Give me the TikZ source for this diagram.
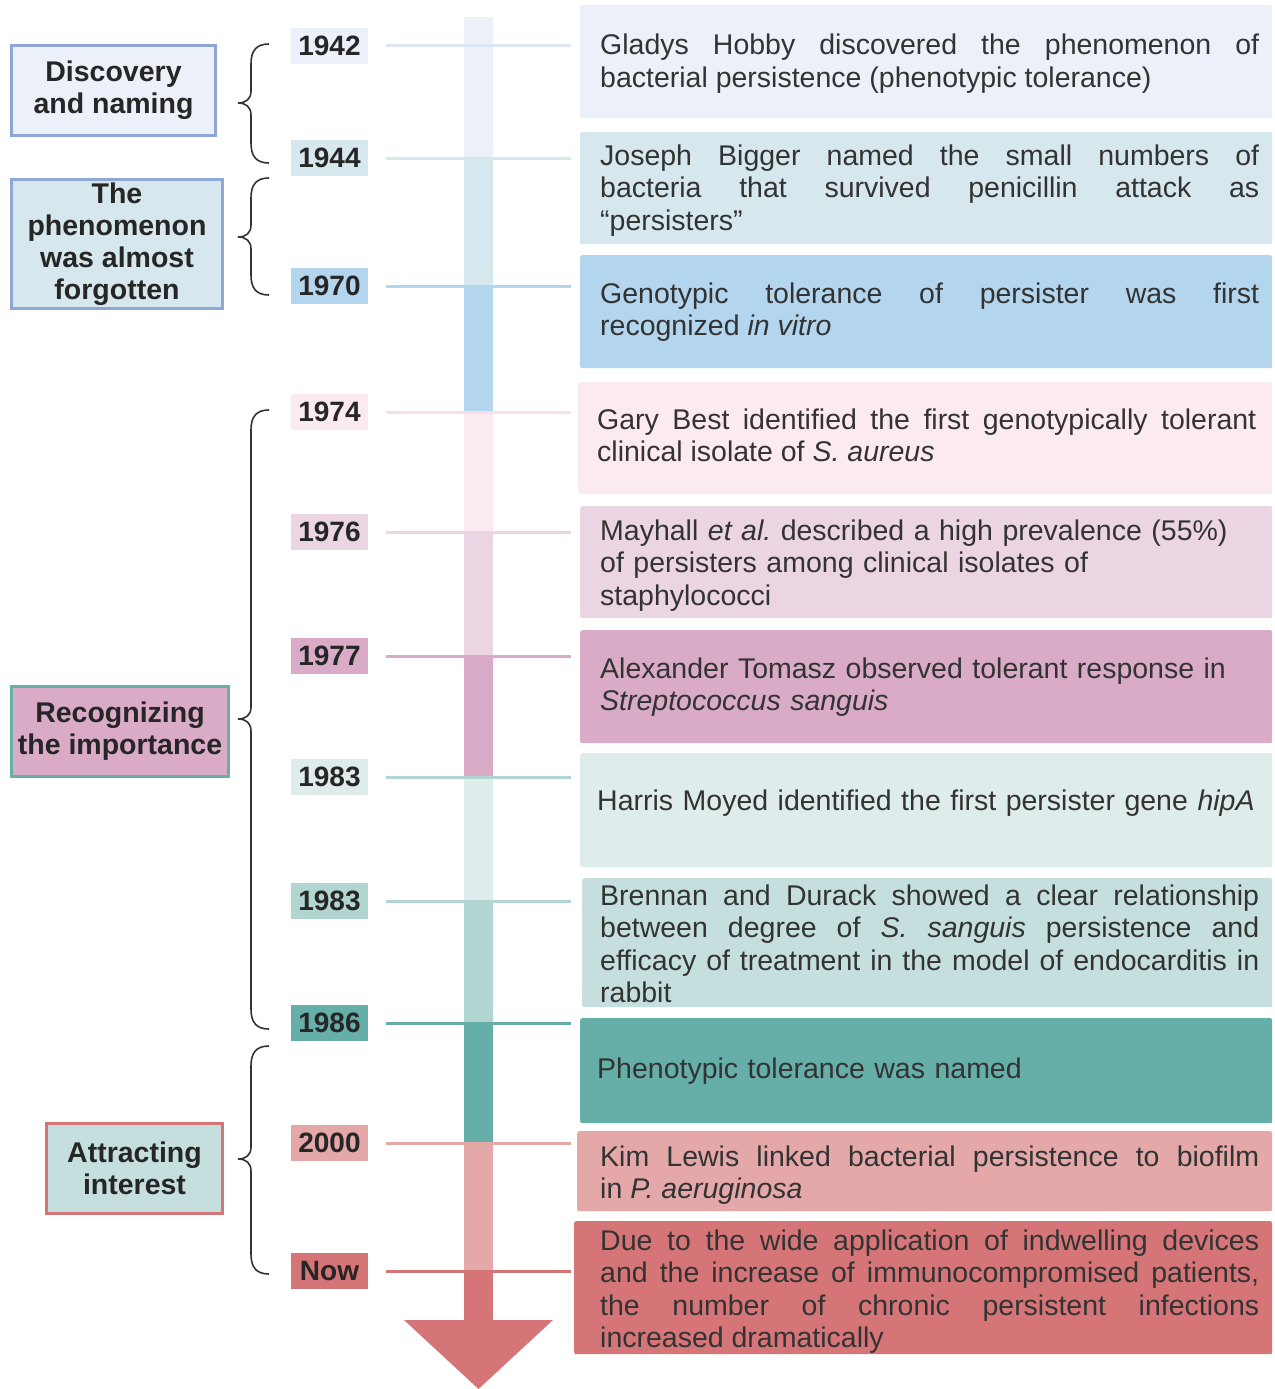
\documentclass[tikz,border=0pt]{standalone}
\usepackage{fontspec}
\setmainfont{Liberation Sans}
\tolerance=9999
\hyphenpenalty=10000
\exhyphenpenalty=10000
\frenchspacing
\definecolor{txt}{HTML}{333333}
\definecolor{btxt}{HTML}{262626}
\definecolor{e1}{HTML}{ECF0F8}
\definecolor{e2}{HTML}{D6E8EE}
\definecolor{e3}{HTML}{B3D5EE}
\definecolor{e4}{HTML}{FBEBF0}
\definecolor{e5}{HTML}{EBD5E2}
\definecolor{e6}{HTML}{D9ABC6}
\definecolor{e7}{HTML}{DEECEB}
\definecolor{e8}{HTML}{C5DFDE}
\definecolor{e8b}{HTML}{B1D5D1}
\definecolor{e9}{HTML}{66AEA8}
\definecolor{e10}{HTML}{E4A8A8}
\definecolor{e11}{HTML}{D67578}
\definecolor{l1}{HTML}{DCE7F3}
\definecolor{l4}{HTML}{F8E0EA}
\definecolor{gblue}{HTML}{8EA7D7}
\definecolor{brk}{HTML}{333333}
\newcommand\tlbrace[3]{%
  \draw[brc] (269,#1) .. controls (256,#1) and (251,#1+7) .. (251,#1+20)
    -- (251,#2-12) .. controls (251,#2-4) and (246,#2) .. (238,#2)
    .. controls (246,#2) and (251,#2+4) .. (251,#2+12)
    -- (251,#3-20) .. controls (251,#3-7) and (256,#3) .. (269,#3);}
\begin{document}
\begin{tikzpicture}[x=1pt,y=-1pt,
  yearlbl/.style={fill=#1, minimum width=77pt, minimum height=36pt, inner sep=0pt,
    text=btxt, font=\bfseries\fontsize{28}{32}\selectfont},
  evbox/.style={fill=#1, rounded corners=2pt, inner sep=0pt, anchor=north west},
  evtext/.style={anchor=base west, text width=659pt, inner sep=0pt, text=txt,
    font=\fontsize{28.5}{32.5}\selectfont},
  grp/.style 2 args={fill=#1, draw=#2, line width=3pt, inner sep=0pt, align=center,
    text=btxt, font=\bfseries\fontsize{28.5}{32}\selectfont},
  conn/.style={draw=#1, line width=3pt},
  brc/.style={draw=brk, line width=1.6pt}]
\useasboundingbox (0,0) rectangle (1274,1389);
\fill[white] (0,0) rectangle (1274,1389);

% timeline bar
\fill[e1]  (464,17)   rectangle (493,158);
\fill[e2]  (464,158)  rectangle (493,286);
\fill[e3]  (464,286)  rectangle (493,412);
\fill[e4]  (464,412)  rectangle (493,532);
\fill[e5]  (464,532)  rectangle (493,656);
\fill[e6]  (464,656)  rectangle (493,777);
\fill[e7]  (464,777)  rectangle (493,901);
\fill[e8b] (464,901)  rectangle (493,1023);
\fill[e9]  (464,1023) rectangle (493,1143);
\fill[e10] (464,1143) rectangle (493,1271);
\fill[e11] (464,1271) rectangle (493,1321);
\fill[e11] (404,1320) -- (553,1320) -- (478.5,1389) -- cycle;

% event boxes
\node[evbox=e1,  minimum width=692pt, minimum height=113pt] (b1)  at (580,5) {};
\node[evbox=e2,  minimum width=692pt, minimum height=112pt] (b2)  at (580,132) {};
\node[evbox=e3,  minimum width=692pt, minimum height=113pt] (b3)  at (580,255) {};
\node[evbox=e4,  minimum width=694pt, minimum height=112pt] (b4)  at (578,382) {};
\node[evbox=e5,  minimum width=692pt, minimum height=112pt] (b5)  at (580,506) {};
\node[evbox=e6,  minimum width=692pt, minimum height=113pt] (b6)  at (580,630) {};
\node[evbox=e7,  minimum width=692pt, minimum height=114pt] (b7)  at (580,753) {};
\node[evbox=e8,  minimum width=690pt, minimum height=129pt] (b8)  at (582,878) {};
\node[evbox=e9,  minimum width=692pt, minimum height=105pt] (b9)  at (580,1018) {};
\node[evbox=e10, minimum width=695pt, minimum height=80pt]  (b10) at (577,1131) {};
\node[evbox=e11, minimum width=698pt, minimum height=133pt] (b11) at (574,1221) {};

% year labels
\node[yearlbl=e1]  (y1)  at (329.5,46)   {1942};
\node[yearlbl=e2]  (y2)  at (329.5,158)  {1944};
\node[yearlbl=e3]  (y3)  at (329.5,286)  {1970};
\node[yearlbl=e4]  (y4)  at (329.5,412)  {1974};
\node[yearlbl=e5]  (y5)  at (329.5,532)  {1976};
\node[yearlbl=e6]  (y6)  at (329.5,656)  {1977};
\node[yearlbl=e7]  (y7)  at (329.5,777)  {1983};
\node[yearlbl=e8b] (y8)  at (329.5,901)  {1983};
\node[yearlbl=e9]  (y9)  at (329.5,1023) {1986};
\node[yearlbl=e10] (y10) at (329.5,1143) {2000};
\node[yearlbl=e11] (y11) at (329.5,1271) {Now};

% connectors
\draw[conn=l1,  shorten <=18pt, shorten >=9pt]  (y1.east)  -- (y1.east -| b1.west);
\draw[conn=e2,  shorten <=18pt, shorten >=9pt]  (y2.east)  -- (y2.east -| b2.west);
\draw[conn=e3,  shorten <=18pt, shorten >=9pt]  (y3.east)  -- (y3.east -| b3.west);
\draw[conn=l4,  shorten <=18pt, shorten >=7pt]  (y4.east)  -- (y4.east -| b4.west);
\draw[conn=e5,  shorten <=18pt, shorten >=9pt]  (y5.east)  -- (y5.east -| b5.west);
\draw[conn=e6,  shorten <=18pt, shorten >=9pt]  (y6.east)  -- (y6.east -| b6.west);
\draw[conn=e8b, shorten <=18pt, shorten >=9pt]  (y7.east)  -- (y7.east -| b7.west);
\draw[conn=e8b, shorten <=18pt, shorten >=11pt] (y8.east)  -- (y8.east -| b8.west);
\draw[conn=e9,  shorten <=18pt, shorten >=9pt]  (y9.east)  -- (y9.east -| b9.west);
\draw[conn=e10, shorten <=18pt, shorten >=6pt]  (y10.east) -- (y10.east -| b10.west);
\draw[conn=e11, shorten <=18pt, shorten >=3pt]  (y11.east) -- (y11.east -| b11.west);

% event texts
\node[evtext, align=justify] (t1) at (600,55) {Gladys Hobby discovered the phenomenon of\linebreak bacterial persistence (phenotypic tolerance)};
\node[evtext, align=justify] (t2) at (600,165) {Joseph Bigger named the small numbers of\linebreak bacteria that survived penicillin attack as\linebreak “persisters”};
\node[evtext, align=justify] (t3) at (600,303) {Genotypic tolerance of persister was first\linebreak recognized \textit{in vitro}};
\node[evtext, align=justify] (t4) at (597,429) {Gary Best identified the first genotypically tolerant\linebreak clinical isolate of \textit{S. aureus}};
\node[evtext, align=left] (t5) at (600,540) {Mayhall \textit{et al.} described a high prevalence (55\%)\newline of persisters among clinical isolates of\newline staphylococci};
\node[evtext, align=left] (t6) at (600,678) {Alexander Tomasz observed tolerant response in\newline \textit{Streptococcus sanguis}};
\node[evtext, align=left] (t7) at (597,810) {Harris Moyed identified the first persister gene \textit{hipA}};
\node[evtext, align=justify] (t8) at (600,905) {Brennan and Durack showed a clear relationship\linebreak between degree of \textit{S. sanguis} persistence and\linebreak efficacy of treatment in the model of endocarditis in\linebreak rabbit};
\node[evtext, align=left] (t9) at (597,1078) {Phenotypic tolerance was named};
\node[evtext, align=justify] (t10) at (600,1166) {Kim Lewis linked bacterial persistence to biofilm\linebreak in \textit{P. aeruginosa}};
\node[evtext, align=justify] (t11) at (600,1250) {Due to the wide application of indwelling devices\linebreak and the increase of immunocompromised patients,\linebreak the number of chronic persistent infections\linebreak increased dramatically};

% group boxes
\node[grp={e1}{gblue}, minimum width=204pt, minimum height=90pt]  (g1) at (113.5,90.5) {Discovery\\and naming};
\node[grp={e2}{gblue}, minimum width=211pt, minimum height=129pt] (g2) at (117,244) {The\\phenomenon\\was almost\\forgotten};
\node[grp={e6}{e9},    minimum width=217pt, minimum height=90pt]  (g3) at (120,731.5) {Recognizing\\the importance};
\node[grp={e8}{e11},   minimum width=176pt, minimum height=90pt]  (g4) at (134.5,1168.5) {Attracting\\interest};

% braces
\tlbrace{44}{103}{163}
\tlbrace{178}{237}{295}
\tlbrace{410}{719}{1029}
\tlbrace{1046}{1159}{1274}
\end{tikzpicture}
\end{document}
